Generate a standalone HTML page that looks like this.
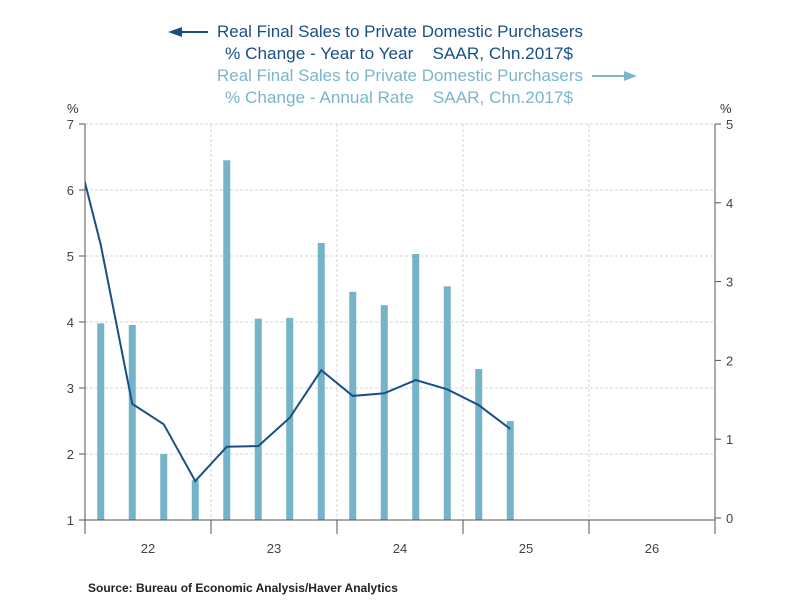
<!DOCTYPE html>
<html><head><meta charset="utf-8"><style>
body{margin:0;background:#fff;}
svg{font-family:"Liberation Sans",sans-serif;}
.t{white-space:pre;}
</style></head><body>
<svg id="c" width="800" height="600">
<defs><clipPath id="clip"><rect x="85" y="100" width="630" height="440"/></clipPath></defs>
<g>
<text class="t" x="400" y="37" text-anchor="middle" font-size="17" fill="#1a4f86" textLength="366" lengthAdjust="spacingAndGlyphs">Real Final Sales to Private Domestic Purchasers</text>
<text class="t" x="399" y="59" text-anchor="middle" font-size="17" fill="#1a4f86" textLength="348" lengthAdjust="spacingAndGlyphs">% Change - Year to Year    SAAR, Chn.2017$</text>
<text class="t" x="400" y="81" text-anchor="middle" font-size="17" fill="#7ab6cb" textLength="366" lengthAdjust="spacingAndGlyphs">Real Final Sales to Private Domestic Purchasers</text>
<text class="t" x="399" y="103" text-anchor="middle" font-size="17" fill="#7ab6cb" textLength="348" lengthAdjust="spacingAndGlyphs">% Change - Annual Rate    SAAR, Chn.2017$</text>
<g><line x1="180" y1="32" x2="208" y2="32" stroke="#1a4f86" stroke-width="2"/><polygon points="168,32 182,27 182,37" fill="#1a4f86"/></g>
<g><line x1="592" y1="76" x2="625" y2="76" stroke="#7ab6cb" stroke-width="2"/><polygon points="637,76 624,71 624,81" fill="#7ab6cb"/></g>
</g>
<text x="67" y="113" font-size="13" fill="#333">%</text>
<text x="720" y="113" font-size="13" fill="#333">%</text>
<g id="grid"></g><g id="bars"></g><g id="line"></g><g id="axes"></g>
<text x="88" y="592" font-size="12" font-weight="bold" fill="#222">Source:  Bureau of Economic Analysis/Haver Analytics</text>
</svg>
<script>
const quarters=["21Q4","22Q1","22Q2","22Q3","22Q4","23Q1","23Q2","23Q3","23Q4","24Q1","24Q2","24Q3","24Q4","25Q1","25Q2"];
const yoyValues=[7.05,5.17,2.76,2.45,1.59,2.11,2.12,2.55,3.27,2.88,2.92,3.12,2.98,2.74,2.38];
const annualRateValues=[null,2.47,2.45,0.81,0.48,4.54,2.53,2.54,3.49,2.87,2.70,3.35,2.94,1.89,1.23];
const years=["22","23","24","25","26"];
const leftTicks=[1,2,3,4,5,6,7];
const rightTicks=[0,1,2,3,4,5];
const NS="http://www.w3.org/2000/svg";
const X0=85,QW=31.5,YB=520,YT=124;
const xq=i=>X0+(i-1)*QW+QW/2;
const yL=v=>YB-(v-1)*(YB-YT)/6;
const yR=v=>518-v*(518-YT)/5;
function mk(t,a,p){const e=document.createElementNS(NS,t);for(const k in a)e.setAttribute(k,a[k]);p.appendChild(e);return e;}
const g=document.getElementById('grid'),b=document.getElementById('bars'),l=document.getElementById('line'),ax=document.getElementById('axes');
leftTicks.forEach(v=>{const y=yL(v);
 if(v>1){const gl=mk('line',{x1:85,x2:715,y1:y,y2:y,stroke:'#d4d4d4','stroke-dasharray':'3,2'},g);
 
 }
 mk('line',{x1:79,x2:85,y1:y,y2:y,stroke:'#555'},ax);
 const t=mk('text',{x:74,y:y+5,'text-anchor':'end','font-size':13,fill:'#444'},ax);t.textContent=v;
 
 });
rightTicks.forEach(v=>{const y=yR(v);
 mk('line',{x1:715,x2:721,y1:y,y2:y,stroke:'#555'},ax);
 const t=mk('text',{x:726,y:y+5,'font-size':13,fill:'#444'},ax);t.textContent=v;
 
 });
years.forEach((yr,i)=>{const x=X0+i*126;
 if(i>0){const gl=mk('line',{x1:x,x2:x,y1:YT,y2:YB,stroke:'#d4d4d4','stroke-dasharray':'3,2'},g);
 
 }
 mk('line',{x1:x,x2:x,y1:YB,y2:534,stroke:'#555'},ax);
 const t=mk('text',{x:x+63,y:553,'text-anchor':'middle','font-size':13,fill:'#444'},ax);t.textContent=yr;
 
 });
mk('line',{x1:715,x2:715,y1:YB,y2:534,stroke:'#555'},ax);
const a1=mk('line',{x1:85,x2:85,y1:YT,y2:YB,stroke:'#555'},ax);


const a2=mk('line',{x1:715,x2:715,y1:YT,y2:YB,stroke:'#555'},ax);


const a3=mk('line',{x1:85,x2:715,y1:YB,y2:YB,stroke:'#555'},ax);


annualRateValues.forEach((v,i)=>{if(v==null)return;const y=yR(v);
 const r=mk('rect',{x:xq(i)-3.5,y:y,width:7,height:YB-y,fill:'#74b3c8'},b);
 
 });
const p=mk('polyline',{points:yoyValues.map((v,i)=>xq(i)+','+yL(v)).join(' '),fill:'none',stroke:'#1a4f86','stroke-width':2,'clip-path':'url(#clip)'},l);


</script>
</body></html>
